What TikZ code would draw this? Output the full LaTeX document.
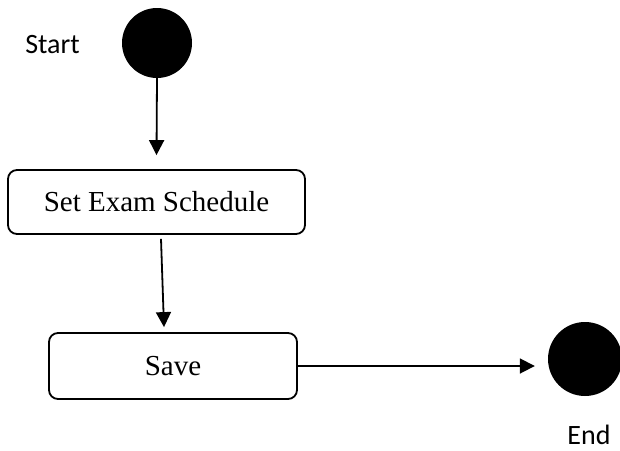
\documentclass[tikz,border=0pt]{standalone}
\usepackage{fontspec}
\setmainfont{Liberation Serif}
\newfontfamily\labelfont{Carlito}
\usetikzlibrary{arrows.meta}
\begin{document}
\begin{tikzpicture}[x=1pt,y=1pt,
  statebox/.style={draw, line width=1.8pt, rounded corners=9pt, inner sep=0pt, font=\fontsize{29}{34}\selectfont},
  dot/.style={circle, fill=black, draw=none, inner sep=0pt},
  arr/.style={line width=1.8pt, -{Triangle[length=15pt,width=15pt]}},
  lbl/.style={font=\labelfont\fontsize{28}{32}\selectfont, inner sep=0pt}]
\useasboundingbox (0,0) rectangle (620,-450);
\node[dot, minimum size=70pt] (start) at (157,-43) {};
\node[lbl] (startlbl) at (52.5,-45) {Start};
\node[statebox, minimum width=297pt, minimum height=64pt] (set) at (156.5,-202) {Set Exam Schedule};
\node[statebox, minimum width=248pt, minimum height=66pt] (save) at (173,-366) {Save};
\node[dot, minimum size=74pt] (end) at (585,-359) {};
\node[lbl] (endlbl) at (589,-435) {End};
\draw[arr] (start.south) -- ([yshift=14pt]set.north);
\draw[arr] ([xshift=4.5pt,yshift=-4pt]set.south) -- ([xshift=-9pt,yshift=5pt]save.north);
\draw[arr] (save.east) -- ([xshift=-13pt]save.east -| end.west);
\end{tikzpicture}
\end{document}
